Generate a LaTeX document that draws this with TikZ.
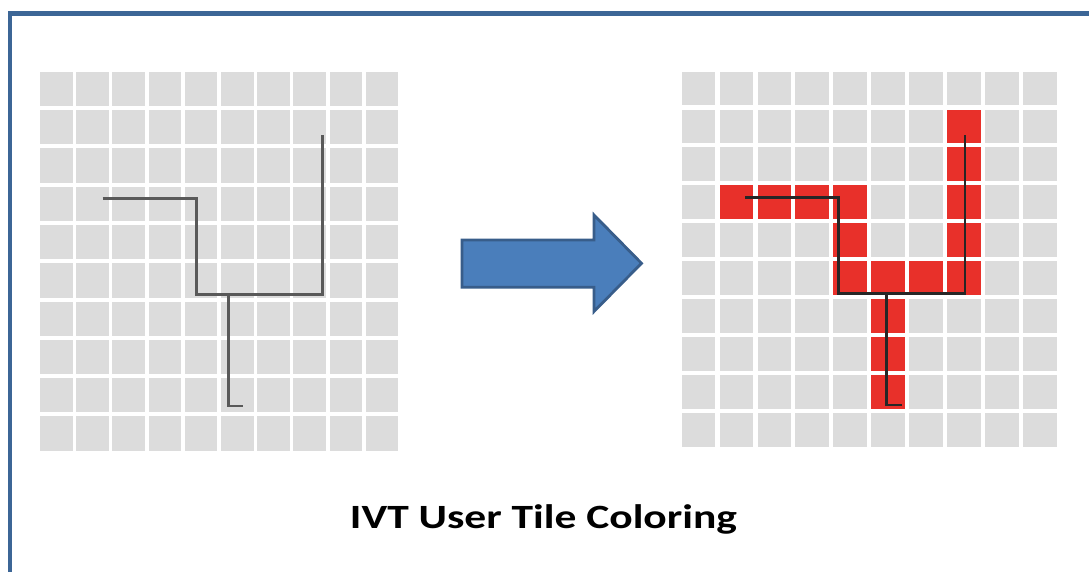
\documentclass[tikz,border=0pt]{standalone}
\usepackage{fontspec}
\setmainfont{Carlito}
\usepackage{xcolor}
\usetikzlibrary{calc}

\definecolor{framecol}{HTML}{3C6696}
\definecolor{tilegray}{HTML}{DCDCDC}
\definecolor{tilered}{HTML}{E8302A}
\definecolor{arrowfill}{HTML}{4A7EBB}
\definecolor{arrowline}{HTML}{385D8A}

\tikzset{
	tile/.style = {fill = tilegray},
	hot/.style = {fill = tilered},
	route/.style = {line width = 2.6pt, line join = miter},
}

\begin{document}
\begin{tikzpicture}[x = 1pt, y = -1pt]
			\useasboundingbox (0,0) rectangle (1089,572);
			
			% outer frame, runs off the page on the right and bottom
			\begin{scope}
				\clip (0,0) rectangle (1089,572);
				\draw [framecol, line width = 4.5pt] (10,13.5) rectangle (1100,590);
			\end{scope}
			
			% left grid
			\def\lx{40};
			\def\ly{71.7};
			\def\lpx{36.2};
			\def\lpy{38.3};
			\foreach \i in {0,...,9}
				\foreach \j in {0,...,9}
					\fill [tile] (\lx+\i*\lpx,\ly+\j*\lpy) rectangle ++(32.5,34.3);
			
			% right grid
			\def\rx{681.7};
			\def\ry{71.7};
			\def\rp{37.9};
			\foreach \i in {0,...,9}
				\foreach \j in {0,...,9}
					\fill [tile] (\rx+\i*\rp,\ry+\j*\rp) rectangle ++(33.7,33.7);
			\foreach \i/\j in {7/1,7/2,1/3,2/3,3/3,4/3,7/3,4/4,7/4,4/5,5/5,6/5,7/5,5/6,5/7,5/8}
				\fill [hot] (\rx+\i*\rp,\ry+\j*\rp) rectangle ++(33.7,33.7);
			
			% user path, before
			\coordinate (a1) at (102.7,198.3);
			\coordinate (a2) at (196.7,198.3);
			\coordinate (a3) at (196.7,294.3);
			\coordinate (a4) at (322.7,294.3);
			\coordinate (a5) at (322.7,135);
			\coordinate (b1) at (228.3,294.3);
			\coordinate (b2) at (228.3,406);
			\coordinate (b3) at (243.3,406);
			\draw [route, black!65] (a1) -- (a2) -- (a3) -- (a4) -- (a5);
			\draw [route, black!65] (b1) -- (b2) -- (b3);
			
			% user path, after
			\coordinate (c1) at (745,197.7);
			\coordinate (c2) at (838.3,197.7);
			\coordinate (c3) at (838.3,293.3);
			\coordinate (c4) at (965,293.3);
			\coordinate (c5) at (965,135);
			\coordinate (d1) at (886.7,293.3);
			\coordinate (d2) at (886.7,405);
			\coordinate (d3) at (901.7,405);
			\draw [route, black!85] (c1) -- (c2) -- (c3) -- (c4) -- (c5);
			\draw [route, black!85] (d1) -- (d2) -- (d3);
			
			% block arrow
			\filldraw [fill = arrowfill, draw = arrowline, line width = 2.8pt, line join = miter]
				(462,240) -- (594,240) -- (594,215) -- (641.5,263.3)
				-- (594,311.5) -- (594,287.3) -- (462,287.3) -- cycle;
			
			\node (title) [anchor = base, xscale = 1.28, font = \fontsize{34}{40}\selectfont\bfseries]
				at (543.5,528.3) {IVT User Tile Coloring};
		\end{tikzpicture}
\end{document}
